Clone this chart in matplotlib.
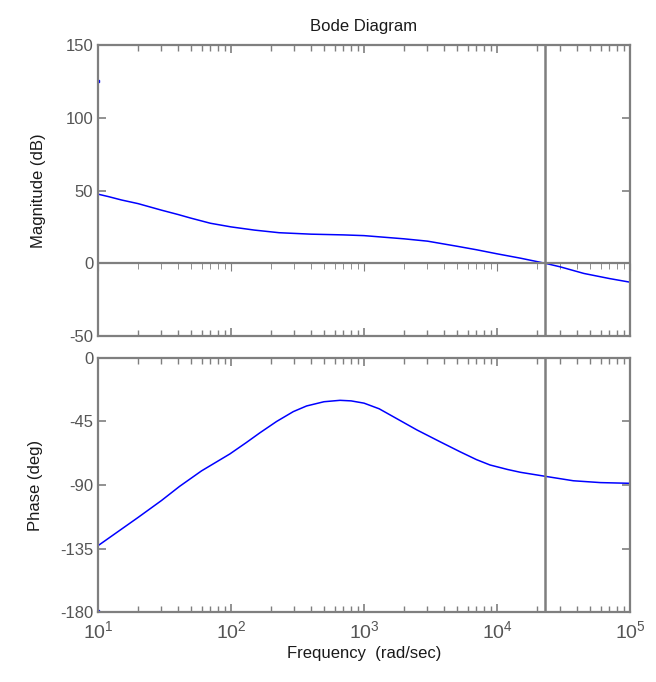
import math

import matplotlib
matplotlib.use("Agg")
import matplotlib.pyplot as plt
from matplotlib.ticker import FixedLocator, FuncFormatter, LogLocator, NullFormatter

plt.rcParams["font.family"] = ["Liberation Sans", "DejaVu Sans"]
plt.rcParams["axes.unicode_minus"] = False

# frequency response
freq = [10, 12, 15, 20, 30, 40, 50, 70, 100, 150, 230, 400, 700, 1000, 2000,
        3000, 5000, 7000, 10000, 15000, 23000, 30000, 45000, 70000, 100000]
mag_db = [47.5, 45.8, 43.5, 41, 36.5, 33.5, 31, 27.5, 25, 22.8, 21, 20, 19.5,
          19, 16.8, 15.2, 11.7, 9.3, 6.5, 3.5, 0, -2.5, -7, -10.5, -13]

phase_freq = [10, 20, 30, 41, 60, 98, 130, 165, 220, 294, 370, 500, 660, 800,
              1000, 1300, 1660, 2500, 3720, 5260, 7000, 8850, 12000, 15000,
              23600, 37500, 60000, 100000]
phase_deg = [-133, -113, -101, -91, -80, -68, -60, -53, -45, -38, -34, -31,
             -30, -30.4, -32, -36, -41.6, -51, -59.3, -66.4, -72, -75.8, -79,
             -81, -84, -87, -88.3, -88.8]

# stray points at the left edge, and the crossover frequency
stray_mag = (10, 125)
stray_phase = (10, -179)
crossover = 2.3e4

mag_ticks = [-50, 0, 50, 100, 150]
phase_ticks = [-180, -135, -90, -45, 0]

frame = "#7f7f7f"
tickcol = "#555555"
textcol = "#1a1a1a"
blue = "#0000ff"

fig = plt.figure(figsize=(6.56, 6.82), dpi=100)
ax1 = fig.add_axes([0.1494, 0.5073, 0.811, 0.4267])
ax2 = fig.add_axes([0.1494, 0.1026, 0.811, 0.3725])


def style(ax, yticks, ylim):
    ax.set_xscale("log")
    ax.set_xlim(10, 1e5)
    ax.set_ylim(*ylim)
    ax.yaxis.set_major_locator(FixedLocator(yticks))
    ax.xaxis.set_major_locator(LogLocator(base=10))
    ax.xaxis.set_minor_locator(LogLocator(base=10, subs=range(2, 10)))
    ax.xaxis.set_minor_formatter(NullFormatter())
    for s in ax.spines.values():
        s.set_color(frame)
        s.set_linewidth(1.6)
    ax.tick_params(which="both", direction="in", colors=frame, top=True,
                   right=True, labelcolor=tickcol, labelsize=12)
    ax.tick_params(which="major", length=6, width=1.2)
    ax.tick_params(which="minor", length=4, width=1.0)


style(ax1, mag_ticks, (-50, 150))
style(ax2, phase_ticks, (-180, 0))

# magnitude
ax1.plot(freq, mag_db, color=blue, lw=1.1)
ax1.plot(*stray_mag, marker="s", ms=1.5, color=blue, mec=blue)
ax1.axvline(crossover, color=frame, lw=1.8)
ax1.axhline(0, color=frame, lw=1.6)
zero_axis = ax1.secondary_xaxis(0.25)
zero_axis.xaxis.set_minor_locator(LogLocator(base=10, subs=range(2, 10)))
zero_axis.tick_params(which="both", direction="out", colors=frame,
                      labelbottom=False)
zero_axis.tick_params(which="major", length=6)
zero_axis.tick_params(which="minor", length=4)
zero_axis.spines["bottom"].set_visible(False)
ax1.tick_params(labelbottom=False)
ax1.set_ylabel("Magnitude (dB)", fontsize=12, color=textcol, labelpad=14)
ax1.set_title("Bode Diagram", fontsize=12, color=textcol, pad=10)

# phase
ax2.plot(phase_freq, phase_deg, color=blue, lw=1.1)
ax2.plot(*stray_phase, marker="s", ms=1.5, color=blue, mec=blue)
ax2.axvline(crossover, color=frame, lw=1.8)
ax2.xaxis.set_major_formatter(
    FuncFormatter(lambda v, p: r"$\mathregular{10^{%d}}$" % round(math.log10(v))))
ax2.tick_params(axis="x", labelsize=14, pad=6)
ax2.set_ylabel("Phase (deg)", fontsize=12, color=textcol, labelpad=12)
ax2.set_xlabel("Frequency  (rad/sec)", fontsize=12, color=textcol, labelpad=3)

fig.savefig("out.png", dpi=100)
